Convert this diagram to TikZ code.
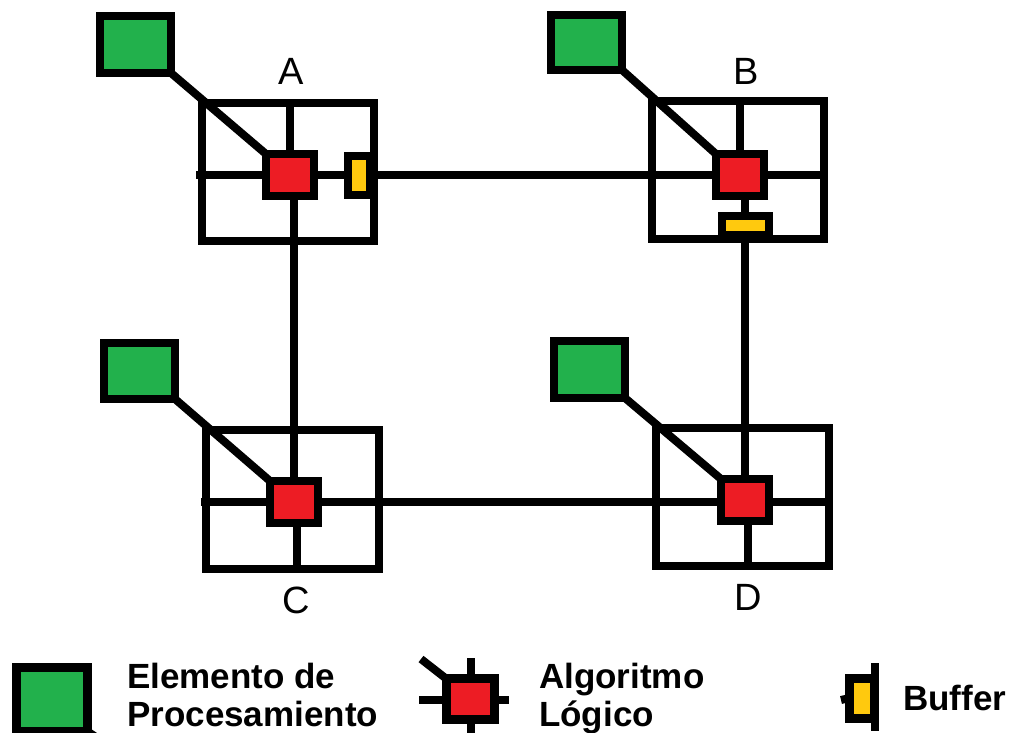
\documentclass[tikz,border=0pt]{standalone}
\usepackage{fontspec}
\setmainfont{Liberation Sans}
\usetikzlibrary{calc}
\definecolor{peGreen}{HTML}{22B14C}
\definecolor{algRed}{HTML}{ED1C24}
\definecolor{bufYellow}{HTML}{FFC90E}
\pgfdeclarelayer{paper}
\pgfdeclarelayer{wires}
\pgfsetlayers{paper,wires,main}

\begin{document}
\begin{tikzpicture}[x=1pt,y=-1pt,
  routerbox/.style={draw=black,line width=8pt,minimum width=172pt,minimum height=138pt,inner sep=0pt,outer sep=0pt},
  pebox/.style={draw=black,fill=peGreen,line width=8pt,minimum width=71pt,minimum height=56pt,inner sep=0pt,outer sep=0pt},
  algbox/.style={draw=black,fill=algRed,line width=8.5pt,minimum width=48pt,minimum height=42pt,inner sep=0pt,outer sep=0pt},
  bufbox/.style={draw=black,fill=bufYellow,line width=8pt,inner sep=0pt,outer sep=0pt},
  wire/.style={line width=8pt},
  peline/.style={line width=8pt},
  nodelabel/.style={font=\fontsize{38}{38}\selectfont,inner sep=0pt},
  legendtext/.style={font=\fontsize{35}{35}\selectfont\bfseries,anchor=base west,inner sep=0pt},
]
\clip (0,0) rectangle (1014,733);
\begin{pgfonlayer}{paper}
  \fill[white] (0,0) rectangle (1014,733);
\end{pgfonlayer}

% routers
\node[routerbox] (rA) at (288,172) {};
\node[routerbox] (rB) at (738,170) {};
\node[routerbox,minimum width=173pt,minimum height=139pt] (rC) at (292.5,499.5) {};
\node[routerbox,minimum width=173pt] (rD) at (742.5,497) {};

% logic algorithm blocks
\node[algbox] (aA) at (290,175) {};
\node[algbox] (aB) at (740,175) {};
\node[algbox] (aC) at (294,502) {};
\node[algbox] (aD) at (745,500) {};

% buffers
\node[bufbox,minimum width=22pt,minimum height=39pt] (bA) at (359,175) {};
\node[bufbox,minimum width=47pt,minimum height=19pt] (bB) at (745,225) {};

% processing elements
\node[pebox,minimum height=57pt] (pA) at (135.5,44.5) {};
\node[pebox,minimum height=55pt] (pB) at (586.5,42.5) {};
\node[pebox] (pC) at (139.5,371) {};
\node[pebox,minimum height=57pt] (pD) at (589.5,369.5) {};

% router labels
\node[nodelabel] (lA) at (291,71) {A};
\node[nodelabel] (lB) at (746,71) {B};
\node[nodelabel] (lC) at (296,600) {C};
\node[nodelabel] (lD) at (748,597) {D};

\begin{pgfonlayer}{wires}
  % router A crossbar
  \draw[wire] (aA |- rA.north) -- (aA);
  \draw[wire] ($(rA.west |- aA)+(-6,0)$) -- (aA);
  % router B crossbar
  \draw[wire] (aB |- rB.north) -- (aB);
  \draw[wire] (aB) -- (rB.east |- aB);
  \draw[wire] (bB |- aB) -- (bB);
  % router C crossbar
  \draw[wire] ($(rC.west |- aC)+(-5,0)$) -- (aC);
  \draw[wire] ($(aC)+(3,0)$) -- ($(aC |- rC.south)+(3,0)$);
  % router D crossbar
  \draw[wire] (aD |- aC) -- (rD.east |- aC);
  \draw[wire] ($(aD)+(3,0)$) -- ($(aD |- rD.south)+(3,0)$);
  % links between routers
  \draw[wire] (aA) -- (aB);
  \draw[wire] (aC |- aA.south) -- (aC);
  \draw[wire] (aD |- bB.south) -- (aD);
  \draw[wire] (aC) -- (aD |- aC);
  % processing elements to logic blocks
  \draw[peline] (pA.south east) -- (aA.north west);
  \draw[peline] (pB.south east) -- (aB.north west);
  \draw[peline] (pC.south east) -- (aC.north west);
  \draw[peline] (pD.south east) -- (aD.north west);
\end{pgfonlayer}

% legend: processing element
\node[pebox,minimum width=71pt,minimum height=64pt,line width=9pt] (lgPE) at (51.5,699) {};
\coordinate (lgPEend) at (106,744);
\begin{pgfonlayer}{wires}
  \draw[peline] (lgPE.south east) -- (lgPEend);
\end{pgfonlayer}
\node[legendtext] (tPE1) at (127,688) {Elemento de};
\node[legendtext] (tPE2) at (127,726) {Procesamiento};

% legend: logic algorithm
\node[algbox,minimum width=48pt,minimum height=41pt,line width=9pt] (lgAlg) at (470,699) {};
\coordinate (lgAlgN) at (471,658);
\coordinate (lgAlgS) at (471,745);
\coordinate (lgAlgW) at (419,700);
\coordinate (lgAlgE) at (509,700);
\coordinate (lgAlgNW) at (421,659);
\begin{pgfonlayer}{wires}
  \draw[wire] (lgAlgN) -- (lgAlgS);
  \draw[wire] (lgAlgW) -- (lgAlgE);
  \draw[peline] (lgAlg.north west) -- (lgAlgNW);
\end{pgfonlayer}
\node[legendtext] (tAlg1) at (539,688) {Algoritmo};
\node[legendtext] (tAlg2) at (539,726) {Lógico};

% legend: buffer
\node[bufbox,minimum width=25pt,minimum height=40pt,line width=9pt] (lgBuf) at (862,698) {};
\coordinate (lgBufT) at (875,663);
\coordinate (lgBufB) at (875,731);
\coordinate (lgBufW) at (841,700);
\draw[wire] (lgBufT) -- (lgBufB);
\begin{pgfonlayer}{wires}
  \draw[wire] (lgBufW) -- (lgBuf.west);
\end{pgfonlayer}
\node[legendtext] (tBuf) at (903,710) {Buffer};
\end{tikzpicture}
\end{document}
